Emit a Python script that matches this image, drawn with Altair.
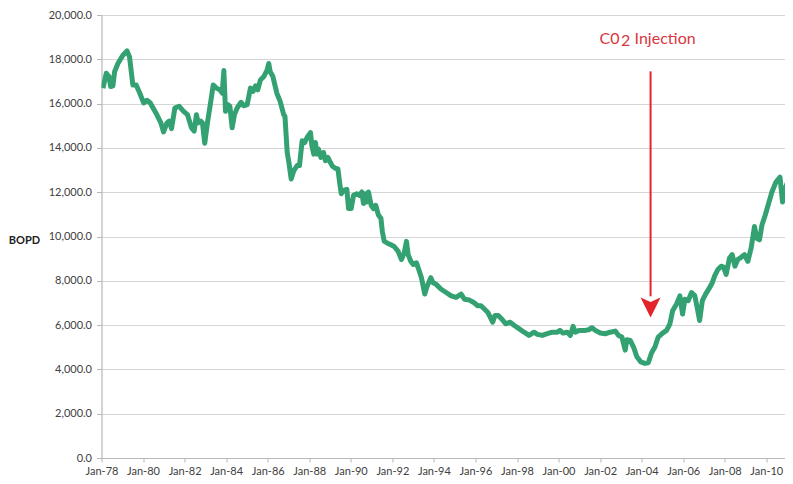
import altair as alt
import pandas as pd

# decimal year of each reading and barrels of oil per day
years = [1978.07, 1978.23, 1978.36, 1978.44, 1978.55, 1978.63, 1978.79, 1979.03, 1979.23, 1979.35,
         1979.51, 1979.67, 1979.83, 1980.03, 1980.19, 1980.35, 1980.62, 1980.86, 1980.99, 1981.15,
         1981.26, 1981.37, 1981.53, 1981.74, 1981.95, 1982.14, 1982.33, 1982.46, 1982.57, 1982.65,
         1982.78, 1982.86, 1982.97, 1983.10, 1983.25, 1983.38, 1983.54, 1983.70, 1983.81, 1983.89,
         1983.97, 1984.09, 1984.18, 1984.29, 1984.40, 1984.53, 1984.72, 1984.85, 1985.01, 1985.17,
         1985.30, 1985.41, 1985.52, 1985.65, 1985.81, 1985.97, 1986.05, 1986.12, 1986.25, 1986.44,
         1986.60, 1986.77, 1986.83, 1986.94, 1987.02, 1987.13, 1987.26, 1987.42, 1987.53, 1987.66,
         1987.78, 1987.89, 1988.06, 1988.13, 1988.22, 1988.30, 1988.37, 1988.45, 1988.56, 1988.69,
         1988.78, 1988.90, 1989.01, 1989.12, 1989.25, 1989.38, 1989.46, 1989.54, 1989.65, 1989.81,
         1989.89, 1990.02, 1990.13, 1990.29, 1990.40, 1990.53, 1990.61, 1990.69, 1990.77, 1990.85,
         1990.98, 1991.09, 1991.20, 1991.33, 1991.45, 1991.52, 1991.61, 1991.77, 1991.93, 1992.09,
         1992.28, 1992.44, 1992.57, 1992.68, 1992.76, 1992.89, 1993.00, 1993.16, 1993.27, 1993.40,
         1993.56, 1993.68, 1993.85, 1993.96, 1994.11, 1994.35, 1994.59, 1994.83, 1995.07, 1995.31,
         1995.47, 1995.71, 1995.92, 1996.11, 1996.27, 1996.43, 1996.59, 1996.72, 1996.83, 1996.94,
         1997.10, 1997.26, 1997.46, 1997.67, 1997.87, 1998.11, 1998.34, 1998.58, 1998.82, 1998.98,
         1999.22, 1999.46, 1999.70, 1999.94, 2000.07, 2000.22, 2000.42, 2000.57, 2000.70, 2000.81,
         2000.98, 2001.13, 2001.29, 2001.45, 2001.61, 2001.77, 2002.01, 2002.25, 2002.49, 2002.73,
         2002.89, 2003.05, 2003.21, 2003.29, 2003.45, 2003.61, 2003.77, 2003.96, 2004.16, 2004.32,
         2004.48, 2004.64, 2004.80, 2005.01, 2005.20, 2005.36, 2005.49, 2005.68, 2005.84, 2005.97,
         2006.08, 2006.24, 2006.40, 2006.56, 2006.67, 2006.79, 2006.92, 2007.08, 2007.27, 2007.40,
         2007.51, 2007.67, 2007.83, 2007.94, 2008.07, 2008.23, 2008.36, 2008.49, 2008.63, 2008.79,
         2008.95, 2009.11, 2009.27, 2009.43, 2009.54, 2009.67, 2009.79, 2009.95, 2010.11, 2010.27,
         2010.46, 2010.66, 2010.78, 2010.91, 2011.02]
bopd = [16700, 17370, 17220, 16770, 16800, 17440, 17810, 18180, 18380, 18110,
        16840, 16840, 16500, 16030, 16150, 16030, 15580, 15130, 14720, 15130,
        15210, 14870, 15800, 15880, 15650, 15500, 14910, 14760, 15500, 15130,
        15210, 15130, 14210, 15130, 16030, 16840, 16700, 16620, 16470, 17490,
        15650, 15950, 15880, 14910, 15500, 15800, 16060, 15900, 15950, 16700,
        16550, 16800, 16620, 17070, 17220, 17510, 17810, 17440, 17220, 16470,
        16100, 15500, 15430, 13790, 13350, 12600, 12980, 13200, 13200, 14320,
        14240, 14460, 14690, 14090, 13720, 14240, 13720, 13940, 13570, 13790,
        13420, 13570, 13350, 13170, 13080, 13050, 12450, 11930, 12080, 12130,
        11260, 11260, 11860, 11930, 11860, 12010, 11490, 11930, 11560, 12010,
        11410, 11260, 11410, 10970, 10820, 10220, 9780, 9700, 9630, 9550,
        9330, 8960, 9250, 9780, 9180, 8880, 8740, 8810, 8510, 8140,
        7400, 7770, 8140, 7910, 7840, 7620, 7470, 7320, 7250, 7400,
        7170, 7130, 7020, 6875, 6875, 6730, 6580, 6350, 6130, 6430,
        6430, 6280, 6060, 6130, 5980, 5830, 5680, 5535, 5680, 5580,
        5535, 5610, 5680, 5680, 5760, 5640, 5680, 5535, 5940, 5680,
        5760, 5760, 5760, 5790, 5880, 5760, 5640, 5610, 5680, 5730,
        5535, 5460, 4870, 5340, 5310, 5010, 4570, 4340, 4270, 4300,
        4750, 5010, 5460, 5640, 5760, 6060, 6650, 6950, 7320, 6500,
        7170, 7100, 7470, 7320, 6800, 6210, 7100, 7400, 7690, 7910,
        8210, 8510, 8660, 8620, 8290, 9030, 9180, 8660, 8960, 9060,
        9180, 8880, 9480, 10450, 9920, 9850, 10520, 10970, 11490, 12010,
        12450, 12680, 11560, 12160, 12450]

y_ticks = [0, 2000, 4000, 6000, 8000, 10000, 12000, 14000, 16000, 18000, 20000]

# annotation: "C0" + lowered "2" + "Injection"
annot_year = [2004.43]
annot_part1 = ["C0"]
annot_part2 = ["2"]
annot_part3 = ["Injection"]
annot_text_y = [18930]
arrow_top = [17455]
arrow_bottom = [7300]
arrow_head_y = [6800]


def to_date(y):
    return pd.Timestamp(int(y), 1, 1) + pd.Timedelta(days=(y - int(y)) * 365.25)


df = pd.DataFrame({"date": [to_date(y) for y in years], "bopd": bopd})
ann = pd.DataFrame({
    "date": [to_date(y) for y in annot_year],
    "p1": annot_part1,
    "p2": annot_part2,
    "p3": annot_part3,
    "ty": annot_text_y,
    "top": arrow_top,
    "bottom": arrow_bottom,
    "head": arrow_head_y,
})

FONT = "Lato"
RED = "#e3242b"
TEXT_RED = "#d9363e"
x_scale = alt.Scale(domain=[to_date(1978.0).isoformat(), to_date(2010.9).isoformat()])
y_scale = alt.Scale(domain=[0, 20000], nice=False)

line = alt.Chart(df).mark_line(color="#33a171", strokeWidth=5, clip=True, strokeJoin="round").encode(
    x=alt.X("date:T", scale=x_scale, title=None,
            axis=alt.Axis(format="%b-%y", tickCount=alt.TimeIntervalStep(interval="year", step=2),
                          grid=False, domainColor="#b8b8b8", tickColor="#b8b8b8", tickSize=4,
                          labelFont=FONT, labelFontSize=11, labelColor="#404040", labelPadding=3,
                          labelFlush=False, labelOverlap=False)),
    y=alt.Y("bopd:Q", scale=y_scale, title="BOPD",
            axis=alt.Axis(values=y_ticks, format=",.1f", gridColor="#d6d6d6", domainColor="#b8b8b8",
                          tickColor="#b8b8b8", tickSize=5, labelFont=FONT, labelFontSize=11,
                          labelColor="#404040", labelPadding=5, titleAngle=0, titleFont=FONT,
                          titleFontSize=11, titleFontWeight="bold", titleColor="#222222",
                          titleAlign="center", titleBaseline="middle", titleX=-77.5, titleY=225)),
)

rule = alt.Chart(ann).mark_rule(color=RED, strokeWidth=2).encode(
    x="date:T", y="top:Q", y2="bottom:Q"
)
head = alt.Chart(ann).mark_point(shape="M-1,-1L0,-0.55L1,-1L0,1Z", size=400, filled=True,
                                 opacity=1, color=RED).encode(x="date:T", y="head:Q")
t1 = alt.Chart(ann).mark_text(color=TEXT_RED, font=FONT, fontSize=16, align="right",
                              baseline="middle", dx=-31).encode(x="date:T", y="ty:Q", text="p1:N")
t2 = alt.Chart(ann).mark_text(color=TEXT_RED, font=FONT, fontSize=16, align="center",
                              baseline="middle", dx=-25, dy=2).encode(x="date:T", y="ty:Q", text="p2:N")
t3 = alt.Chart(ann).mark_text(color=TEXT_RED, font=FONT, fontSize=16, align="left",
                              baseline="middle", dx=-16).encode(x="date:T", y="ty:Q", text="p3:N")

chart = alt.layer(line, rule, head, t1, t2, t3).properties(
    width=683.5, height=443,
    autosize=alt.AutoSizeParams(type="none"),
    padding={"left": 93.5, "top": 7, "right": 0, "bottom": 18},
).configure_view(stroke=None).configure(background="white")

chart.save("out.html", embed_options={"renderer": "svg", "actions": False})
